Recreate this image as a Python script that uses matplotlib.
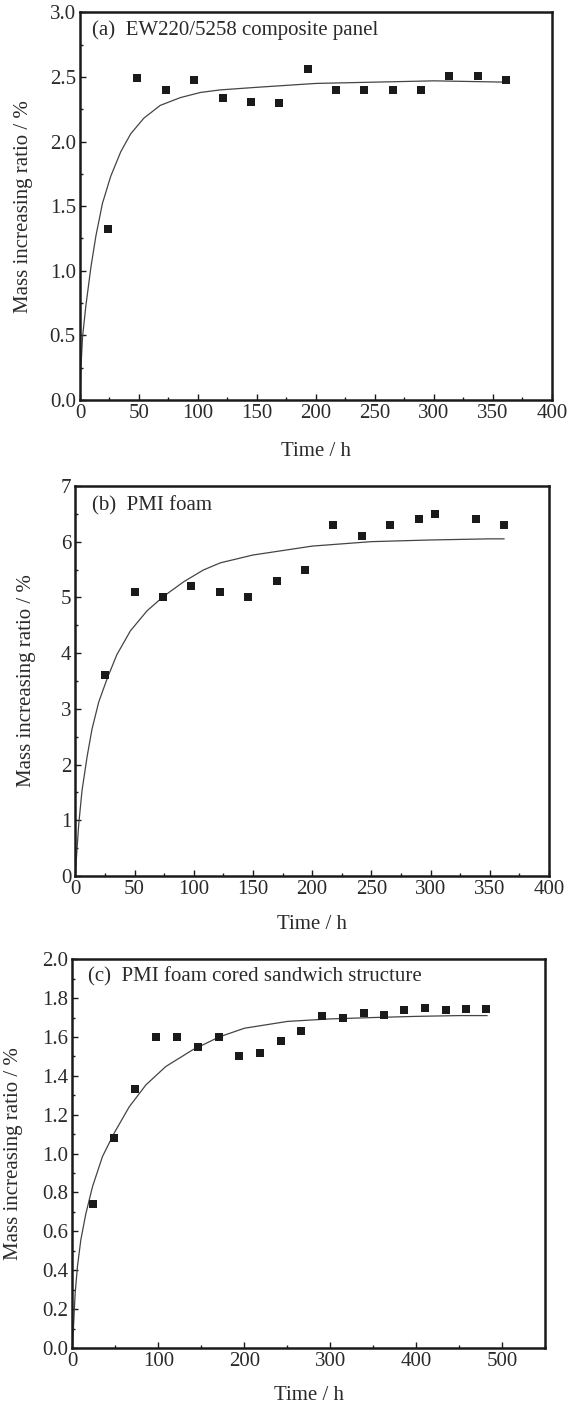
import numpy as np
import matplotlib
matplotlib.use('Agg')
import matplotlib.pyplot as plt
from matplotlib.ticker import MultipleLocator, FormatStrFormatter

plt.rcParams['font.family'] = 'serif'
plt.rcParams['font.serif'] = ['Liberation Serif', 'DejaVu Serif']

# (a) EW220/5258 composite panel
t_a = [24, 48, 73, 97, 121, 145, 169, 193, 217, 241, 265, 289, 313, 337, 361]
m_a = [1.32, 2.49, 2.40, 2.48, 2.34, 2.31, 2.30, 2.56, 2.40, 2.40, 2.40, 2.40, 2.51, 2.51, 2.48]
fit_t_a = [0, 0.8, 2.2, 5, 9.3, 13.5, 19, 26, 34.5, 43, 54, 68, 85, 102, 119, 150, 200, 250, 300, 360]
fit_m_a = [0.0, 0.25, 0.49, 0.73, 1.03, 1.27, 1.52, 1.73, 1.92, 2.06, 2.18, 2.28, 2.34, 2.38, 2.40,
           2.42, 2.45, 2.46, 2.47, 2.46]

# (b) PMI foam
t_b = [25, 50, 74, 98, 122, 146, 170, 194, 218, 242, 266, 290, 304, 338, 362]
m_b = [3.6, 5.1, 5.0, 5.2, 5.1, 5.0, 5.3, 5.5, 6.3, 6.1, 6.3, 6.4, 6.5, 6.4, 6.3]
fit_t_b = [0, 0.8, 2.8, 5.6, 9.9, 14, 19.7, 26.8, 35, 46.5, 60.6, 74.6, 91.5, 108, 122.5,
           150, 200, 250, 300, 350, 362]
fit_m_b = [0.0, 0.3, 0.92, 1.53, 2.14, 2.63, 3.12, 3.54, 3.97, 4.40, 4.76, 5.02, 5.28, 5.49, 5.62,
           5.76, 5.92, 6.00, 6.03, 6.05, 6.05]

# (c) PMI foam cored sandwich structure
t_c = [24, 48, 73, 97, 121, 146, 170, 194, 218, 242, 266, 290, 314, 339, 362, 386, 410, 434, 458, 481]
m_c = [0.74, 1.08, 1.33, 1.60, 1.60, 1.55, 1.60, 1.50, 1.52, 1.58, 1.63, 1.71, 1.70, 1.725, 1.715,
       1.74, 1.75, 1.74, 1.745, 1.745]
fit_t_c = [0, 0.8, 3.1, 5.8, 9.7, 15.5, 23.3, 34.9, 48.4, 65.9, 85.3, 108.5, 139.5, 170.5,
           200, 250, 300, 350, 400, 450, 482]
fit_m_c = [0.0, 0.075, 0.28, 0.42, 0.556, 0.69, 0.83, 0.985, 1.105, 1.24, 1.353, 1.448, 1.533, 1.60,
           1.645, 1.68, 1.693, 1.70, 1.706, 1.71, 1.71]

panels = [
    dict(rect=[0.1408, 0.7151, 0.831, 0.2761], t=t_a, m=m_a, ft=fit_t_a, fm=fit_m_a,
         xlim=(0, 400), ylim=(0, 3.0), xmaj=50, xmin=25, ymaj=0.5, ymin=0.25, yfmt='%.1f',
         label='(a)  EW220/5258 composite panel', lpos=(0.025, 0.954),
         ylab_x=-0.0996, xlab_y=-0.108),
    dict(rect=[0.1327, 0.3761, 0.8338, 0.2778], t=t_b, m=m_b, ft=fit_t_b, fm=fit_m_b,
         xlim=(0, 400), ylim=(0, 7), xmaj=50, xmin=25, ymaj=1, ymin=0.5, yfmt='%d',
         label='(b)  PMI foam', lpos=(0.035, 0.949),
         ylab_x=-0.083, xlab_y=-0.100),
    dict(rect=[0.1276, 0.0399, 0.8327, 0.2769], t=t_c, m=m_c, ft=fit_t_c, fm=fit_m_c,
         xlim=(0, 550), ylim=(0, 2.0), xmaj=100, xmin=50, ymaj=0.2, ymin=0.1, yfmt='%.1f',
         label='(c)  PMI foam cored sandwich structure', lpos=(0.033, 0.955),
         ylab_x=-0.105, xlab_y=-0.097),
]

fig = plt.figure(figsize=(5.68, 14.04), dpi=100)
txt = '#2a2a2a'
fs = 15

for p in panels:
    ax = fig.add_axes(p['rect'])
    ax.plot(p['ft'], p['fm'], '-', color='#444444', linewidth=0.9)
    ax.plot(p['t'], p['m'], 's', color='#1a1a1a', markersize=5.5, markeredgewidth=0)
    ax.set_xlim(p['xlim'])
    ax.set_ylim(p['ylim'])
    ax.xaxis.set_major_locator(MultipleLocator(p['xmaj']))
    ax.xaxis.set_minor_locator(MultipleLocator(p['xmin']))
    ax.yaxis.set_major_locator(MultipleLocator(p['ymaj']))
    ax.yaxis.set_minor_locator(MultipleLocator(p['ymin']))
    ax.yaxis.set_major_formatter(FormatStrFormatter(p['yfmt']))
    if p['xlim'][1] == 550:
        ax.set_xticks([0, 100, 200, 300, 400, 500])
    ax.tick_params(which='both', direction='in', top=False, right=False,
                   labelsize=fs, labelcolor=txt, color='#1a1a1a', width=1.0)
    ax.tick_params(which='major', length=4.5, pad=3)
    ax.tick_params(which='minor', length=2.5)
    for s in ax.spines.values():
        s.set_linewidth(1.8)
        s.set_color('#1a1a1a')
    ax.set_ylabel('Mass increasing ratio / %', fontsize=fs, color=txt)
    ax.set_xlabel('Time / h', fontsize=fs, color=txt)
    ax.yaxis.set_label_coords(p['ylab_x'], 0.5)
    ax.xaxis.set_label_coords(0.5, p['xlab_y'])
    ax.text(p['lpos'][0], p['lpos'][1], p['label'], transform=ax.transAxes,
            fontsize=fs, color=txt, va='center', ha='left')

fig.savefig('out.png', dpi=100)
